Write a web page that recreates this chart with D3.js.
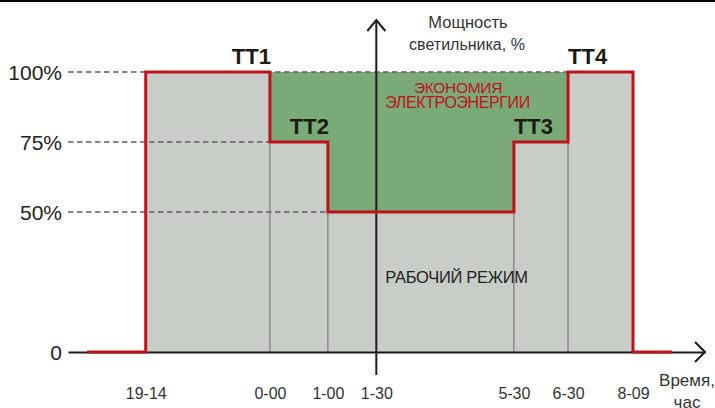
<!DOCTYPE html>
<html>
<head>
  <meta charset="utf-8">
  <title>Мощность светильника</title>
  <script src="https://d3js.org/d3.v7.min.js"></script>
  <style>
    body { margin: 0; background: #fff; }
    text { font-family: "Liberation Sans", Arial, sans-serif; }
  </style>
</head>
<body>
<div id="chart"></div>
<script type="text/javascript">
  // schematic time axis (0..100 units), power in %
  var tickLabels = ["19-14", "0-00", "1-00", "1-30", "5-30", "6-30", "8-09"];
  var tickPos    = [12.2, 31.7, 40.8, 48.4, 70.0, 78.5, 88.7];

  var powerX     = [3.0, 12.2, 31.7, 40.8, 70.0, 78.5, 88.7, 94.8];
  var powerLevel = [0, 100, 75, 50, 75, 100, 0, 0];

  var levelValues = [0, 50, 75, 100];
  var levelLabels = ["0", "50%", "75%", "100%"];

  var guideLevels = [100, 75, 50];
  var guideEnd    = [78.5, 31.7, 40.8];

  var ttNames = ["TT1", "TT2", "TT3", "TT4"];
  var ttAt    = [31.7, 40.8, 70.0, 78.5];
  var ttLevel = [100, 75, 75, 100];

  var yAxisAt = 48.4;

  var red = "#c1121c", grey = "#c9cdc8", green = "#79aa77", ink = "#1c1c1c";

  var svg = d3.select("#chart").append("svg")
      .attr("width", 715)
      .attr("height", 408);

  var x = d3.scaleLinear().domain([0, 100]).range([68, 705]);
  var y = d3.scaleLinear().domain([0, 100]).range([352, 72]);

  var pts = powerX.map(function(d, i) { return {x: d, p: powerLevel[i]}; });

  // top black strip
  svg.append("rect").attr("x", 0).attr("y", 0).attr("width", 715).attr("height", 2).attr("fill", "#000");

  // working mode (grey)
  var area = d3.area()
      .x(function(d) { return x(d.x); })
      .y0(y(0))
      .y1(function(d) { return y(d.p); })
      .curve(d3.curveStepAfter);
  svg.append("path")
      .datum(pts.slice(1, 7))
      .attr("d", area)
      .attr("fill", grey);

  // energy saving (green)
  var saving = d3.area()
      .x(function(d) { return x(d.x); })
      .y0(y(100))
      .y1(function(d) { return y(d.p); })
      .curve(d3.curveStepAfter);
  svg.append("path")
      .datum(pts.slice(2, 6))
      .attr("d", saving)
      .attr("fill", green);

  // dashed guides
  svg.selectAll(".guide")
      .data(guideLevels)
    .enter().append("line")
      .attr("class", "guide")
      .attr("x1", x(0))
      .attr("x2", function(d, i) { return x(guideEnd[i]); })
      .attr("y1", function(d) { return y(d); })
      .attr("y2", function(d) { return y(d); })
      .attr("stroke", "#5f5f5f")
      .attr("stroke-width", 1.5)
      .attr("stroke-dasharray", "5.5,3.5");

  // thin separators inside grey area
  var inner = d3.range(2, 6);
  svg.selectAll(".sep")
      .data(inner)
    .enter().append("line")
      .attr("class", "sep")
      .attr("x1", function(i) { return x(powerX[i]); })
      .attr("x2", function(i) { return x(powerX[i]); })
      .attr("y1", function(i) { return y(Math.min(powerLevel[i - 1], powerLevel[i])); })
      .attr("y2", y(0))
      .attr("stroke", "#6a6a6a")
      .attr("stroke-width", 1);

  // x axis
  var xAxis = d3.axisBottom(x)
      .tickValues(tickPos)
      .tickFormat(function(d, i) { return tickLabels[i]; })
      .tickSize(0)
      .tickPadding(47)
      .tickSizeOuter(0);
  var gx = svg.append("g").attr("transform", "translate(0," + y(0) + ")").call(xAxis);
  gx.select(".domain").attr("stroke", ink).attr("stroke-width", 2);
  gx.selectAll("text")
      .attr("dy", 0)
      .attr("fill", "#333")
      .style("font-size", "16px")
      .style("font-family", "Liberation Sans, Arial, sans-serif");
  svg.append("path")
      .attr("d", "M" + (x(100) - 10) + "," + (y(0) - 10) + "L" + x(100) + "," + y(0) + "L" + (x(100) - 10) + "," + (y(0) + 10))
      .attr("fill", "none").attr("stroke", ink).attr("stroke-width", 2);

  // y labels
  var yAxis = d3.axisLeft(y)
      .tickValues(levelValues)
      .tickFormat(function(d, i) { return levelLabels[i]; })
      .tickSize(0)
      .tickPadding(6);
  var gy = svg.append("g").attr("transform", "translate(" + x(0) + ",0)").call(yAxis);
  gy.select(".domain").remove();
  gy.selectAll("text")
      .attr("dy", "0.36em")
      .attr("fill", "#222")
      .style("font-size", "21px")
      .style("font-family", "Liberation Sans, Arial, sans-serif");

  // vertical axis with arrow
  var ax = x(yAxisAt);
  svg.append("line")
      .attr("x1", ax).attr("x2", ax)
      .attr("y1", 20).attr("y2", y(0) + 23)
      .attr("stroke", ink).attr("stroke-width", 2);
  svg.append("path")
      .attr("d", "M" + (ax - 9) + ",31L" + ax + ",20L" + (ax + 9) + ",31")
      .attr("fill", "none").attr("stroke", ink).attr("stroke-width", 2);

  // power curve
  var line = d3.line()
      .x(function(d) { return x(d.x); })
      .y(function(d) { return y(d.p); })
      .curve(d3.curveStepAfter);
  svg.append("path")
      .datum(pts)
      .attr("d", line)
      .attr("fill", "none")
      .attr("stroke", red)
      .attr("stroke-width", 3);

  // TT labels
  svg.selectAll(".tt")
      .data(ttNames)
    .enter().append("text")
      .attr("class", "tt")
      .attr("x", function(d, i) { return x(ttAt[i]) + (i < 2 ? 1 : 0); })
      .attr("y", function(d, i) { return y(ttLevel[i]) - 8; })
      .attr("text-anchor", function(d, i) { return i < 2 ? "end" : "start"; })
      .attr("fill", "#1b1b10")
      .style("font-size", "22px")
      .style("font-weight", "bold")
      .text(function(d) { return d; });

  // titles
  svg.append("text").attr("x", 468).attr("y", 28).attr("text-anchor", "middle")
      .attr("fill", "#333").style("font-size", "16.5px").text("Мощность");
  svg.append("text").attr("x", 467).attr("y", 50).attr("text-anchor", "middle")
      .attr("fill", "#333").style("font-size", "16px").text("светильника, %");
  svg.append("text").attr("x", 687).attr("y", 386).attr("text-anchor", "middle")
      .attr("fill", "#333").style("font-size", "17px").text("Время,");
  svg.append("text").attr("x", 687).attr("y", 408).attr("text-anchor", "middle")
      .attr("fill", "#333").style("font-size", "17px").text("час");

  svg.append("text").attr("x", 458).attr("y", 93).attr("text-anchor", "middle")
      .attr("fill", red).style("font-size", "15.5px").style("letter-spacing", "-0.3px").text("ЭКОНОМИЯ");
  svg.append("text").attr("x", 457.5).attr("y", 108).attr("text-anchor", "middle")
      .attr("fill", red).style("font-size", "16px").style("letter-spacing", "-0.4px").text("ЭЛЕКТРОЭНЕРГИИ");

  svg.append("text").attr("x", 456.5).attr("y", 283).attr("text-anchor", "middle")
      .attr("fill", "#222").style("font-size", "16.5px").style("letter-spacing", "-0.3px").text("РАБОЧИЙ РЕЖИМ");
</script>
</body>
</html>
